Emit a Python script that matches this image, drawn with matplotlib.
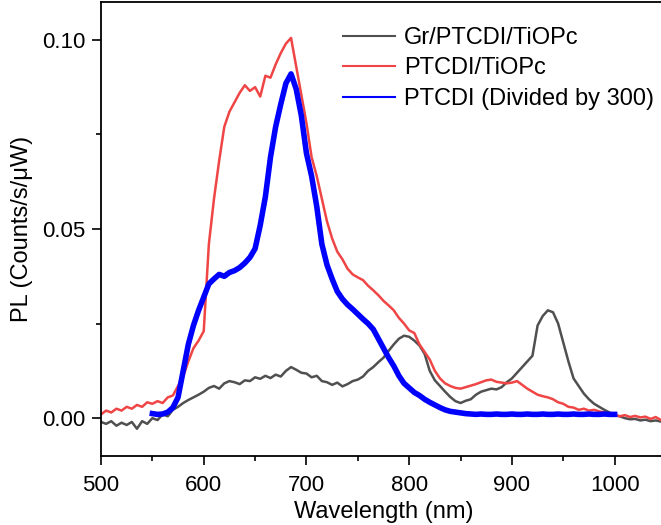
import numpy as np
import matplotlib
matplotlib.use("Agg")
import matplotlib.pyplot as plt
from matplotlib.ticker import MultipleLocator, FormatStrFormatter

plt.rcParams["font.family"] = ["Liberation Sans", "DejaVu Sans"]

# wavelength grids (nm)
wl_film = np.arange(500, 1050, 5)
wl_ptcdi = np.arange(550, 1005, 5)

# PL, Gr/PTCDI/TiOPc
gr_ptcdi_tiopc = [
    -0.0010, -0.0015, -0.0008, -0.0020, -0.0012, -0.0018, -0.0010, -0.0028, -0.0008, -0.0015,
    0.0000, -0.0005, 0.0010, 0.0005, 0.0022, 0.0030, 0.0040, 0.0048, 0.0055, 0.0062,
    0.0070, 0.0080, 0.0085, 0.0078, 0.0092, 0.0098, 0.0095, 0.0090, 0.0100, 0.0098,
    0.0108, 0.0104, 0.0112, 0.0106, 0.0115, 0.0110, 0.0125, 0.0135, 0.0128, 0.0120,
    0.0118, 0.0108, 0.0112, 0.0098, 0.0095, 0.0088, 0.0094, 0.0084, 0.0090, 0.0098,
    0.0102, 0.0110, 0.0125, 0.0135, 0.0148, 0.0160, 0.0178, 0.0195, 0.0210, 0.0218,
    0.0215, 0.0205, 0.0192, 0.0170, 0.0125, 0.0100, 0.0085, 0.0070, 0.0056, 0.0045,
    0.0040, 0.0046, 0.0050, 0.0062, 0.0070, 0.0074, 0.0078, 0.0076, 0.0082, 0.0095,
    0.0105, 0.0120, 0.0135, 0.0150, 0.0165, 0.0245, 0.0270, 0.0285, 0.0280, 0.0250,
    0.0200, 0.0150, 0.0105, 0.0085, 0.0065, 0.0050, 0.0038, 0.0030, 0.0022, 0.0015,
    0.0008, 0.0005, 0.0000, -0.0003, -0.0002, -0.0006, -0.0004, -0.0008, -0.0006, -0.0009,
]

# PL, PTCDI/TiOPc
ptcdi_tiopc = [
    0.0010, 0.0020, 0.0015, 0.0025, 0.0020, 0.0030, 0.0025, 0.0035, 0.0030, 0.0042,
    0.0038, 0.0045, 0.0040, 0.0055, 0.0060, 0.0085, 0.0110, 0.0150, 0.0185, 0.0205,
    0.0230, 0.0460, 0.0580, 0.0680, 0.0770, 0.0810, 0.0835, 0.0860, 0.0880, 0.0865,
    0.0875, 0.0850, 0.0905, 0.0900, 0.0935, 0.0965, 0.0990, 0.1005, 0.0930, 0.0855,
    0.0780, 0.0690, 0.0640, 0.0580, 0.0520, 0.0475, 0.0440, 0.0420, 0.0395, 0.0380,
    0.0372, 0.0365, 0.0350, 0.0338, 0.0325, 0.0310, 0.0298, 0.0285, 0.0265, 0.0250,
    0.0232, 0.0225, 0.0195, 0.0175, 0.0155, 0.0125, 0.0105, 0.0092, 0.0085, 0.0080,
    0.0078, 0.0082, 0.0086, 0.0090, 0.0095, 0.0100, 0.0102, 0.0096, 0.0094, 0.0092,
    0.0094, 0.0098, 0.0088, 0.0078, 0.0070, 0.0062, 0.0058, 0.0055, 0.0050, 0.0042,
    0.0038, 0.0030, 0.0028, 0.0022, 0.0025, 0.0020, 0.0022, 0.0018, 0.0015, 0.0010,
    0.0008, 0.0005, 0.0008, 0.0003, 0.0006, 0.0002, 0.0004, -0.0002, 0.0003, -0.0005,
]

# PL, PTCDI (divided by 300)
ptcdi = [
    0.0012, 0.0010, 0.0011, 0.0016, 0.0028, 0.0055, 0.0125, 0.0195, 0.0245, 0.0285,
    0.0320, 0.0355, 0.0368, 0.0380, 0.0375, 0.0385, 0.0390, 0.0398, 0.0410, 0.0425,
    0.0448, 0.0510, 0.0585, 0.0690, 0.0770, 0.0830, 0.0885, 0.0910, 0.0870, 0.0800,
    0.0700, 0.0640, 0.0560, 0.0460, 0.0405, 0.0368, 0.0335, 0.0315, 0.0300, 0.0288,
    0.0275, 0.0262, 0.0250, 0.0235, 0.0210, 0.0185, 0.0160, 0.0138, 0.0112, 0.0092,
    0.0080, 0.0068, 0.0060, 0.0050, 0.0042, 0.0035, 0.0028, 0.0022, 0.0018, 0.0016,
    0.0014, 0.0012, 0.0011, 0.0010, 0.0011, 0.0010, 0.0010, 0.0011, 0.0010, 0.0010,
    0.0011, 0.0010, 0.0010, 0.0011, 0.0010, 0.0010, 0.0011, 0.0010, 0.0010, 0.0011,
    0.0010, 0.0010, 0.0011, 0.0010, 0.0010, 0.0011, 0.0010, 0.0010, 0.0011, 0.0010,
    0.0010,
]

labels = ["Gr/PTCDI/TiOPc", "PTCDI/TiOPc", "PTCDI (Divided by 300)"]

fig = plt.figure(figsize=(6.61, 5.25), dpi=100)
ax = fig.add_axes([101 / 661, 69 / 525, 565 / 661, 454 / 525])

ax.plot(wl_film, gr_ptcdi_tiopc, color="#505050", lw=1.8, label=labels[0])
ax.plot(wl_film, ptcdi_tiopc, color="#f04545", lw=1.8, label=labels[1])
ax.plot(wl_ptcdi, ptcdi, color="#0000ff", lw=4, label=labels[2])

ax.set_xlim(500, 1050)
ax.set_ylim(-0.01, 0.11)
ax.xaxis.set_major_locator(MultipleLocator(100))
ax.xaxis.set_minor_locator(MultipleLocator(50))
ax.yaxis.set_major_locator(MultipleLocator(0.05))
ax.yaxis.set_minor_locator(MultipleLocator(0.025))
ax.yaxis.set_major_formatter(FormatStrFormatter("%.2f"))
ax.tick_params(which="both", direction="out", width=1.2, labelsize=16)
ax.tick_params(which="major", length=6.5)
ax.tick_params(which="minor", length=3.4)
ax.tick_params(axis="x", which="major", pad=7)
ax.tick_params(axis="y", which="major", pad=5)
for s in ax.spines.values():
    s.set_linewidth(1.3)

ax.set_xlabel("Wavelength (nm)", fontsize=17, labelpad=4)
ax.set_ylabel("PL (Counts/s/\u03bcW)", fontsize=17, labelpad=6)

leg = ax.legend(loc="upper left", bbox_to_anchor=(331 / 661, 1 - 15 / 525),
                bbox_transform=fig.transFigure, frameon=False, fontsize=17,
                handlelength=2.2, handletextpad=0.4, labelspacing=0.36, borderpad=0)
for ln in leg.get_lines():
    ln.set_linewidth(1.5)

fig.savefig("out.png", dpi=100)
